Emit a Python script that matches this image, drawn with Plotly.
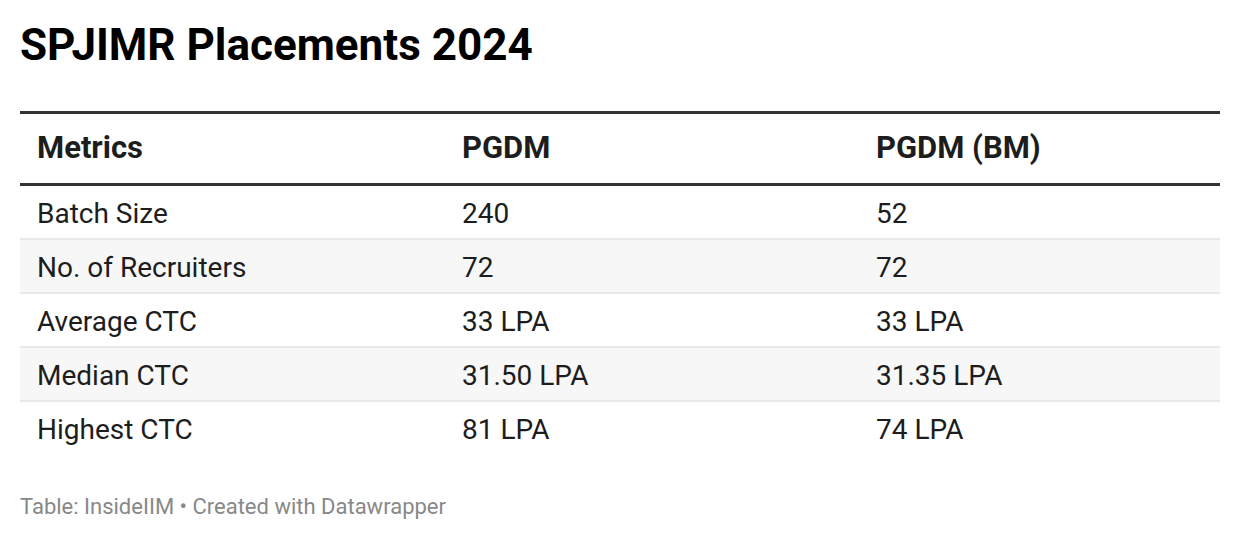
import plotly.graph_objects as go

# ---- data ----
headers = ["Metrics", "PGDM", "PGDM (BM)"]
metrics = ["Batch Size", "No. of Recruiters", "Average CTC", "Median CTC", "Highest CTC"]
pgdm = ["240", "72", "33 LPA", "31.50 LPA", "81 LPA"]
pgdm_bm = ["52", "72", "33 LPA", "31.35 LPA", "74 LPA"]
title_text = "SPJIMR Placements 2024"
footer_text = "Table: InsideIIM • Created with Datawrapper"

# page has an 8px body margin; work in screen pixels and convert
OFF = 8
W, H = 1240 - OFF, 540 - OFF


def px(x):
    return (x - OFF) / W


def py(y):
    return 1 - (y - OFF) / H


FONT = "Roboto, Arial, sans-serif"
TEXT = "#1d1d1d"
CLEAR = "rgba(0,0,0,0)"

x0, x1 = 20, 1220
top = 111
header_h = 75
row_h = 54
n = len(metrics)
col_w = [9, 425, 414, 352]

# vertical text nudges (table text is top-aligned)
dh = 10
db = -8

fig = go.Figure()
# header table
fig.add_trace(go.Table(
    domain=dict(x=[px(x0), px(x1)], y=[0, py(top + dh)]),
    columnwidth=col_w,
    header=dict(
        values=[""] + ["<b>%s</b>" % h for h in headers],
        height=header_h - dh,
        align="left",
        fill=dict(color=CLEAR),
        line=dict(width=0, color=CLEAR),
        font=dict(family=FONT, size=31, color=TEXT),
    ),
    cells=dict(values=[[], [], [], []], fill=dict(color=CLEAR),
               line=dict(width=0, color=CLEAR)),
    hoverinfo="skip",
))
# body table
fig.add_trace(go.Table(
    domain=dict(x=[px(x0), px(x1)], y=[0, py(top + header_h + db)]),
    columnwidth=col_w,
    header=dict(values=[], height=0, fill=dict(color=CLEAR),
                line=dict(width=0, color=CLEAR)),
    cells=dict(
        values=[[""] * n, metrics, pgdm, pgdm_bm],
        height=row_h,
        align="left",
        fill=dict(color=CLEAR),
        line=dict(width=0, color=CLEAR),
        font=dict(family=FONT, size=28, color=TEXT),
    ),
    hoverinfo="skip",
))

shapes = []
body_top = top + header_h
# zebra shading
for i in range(n):
    if i % 2 == 1:
        ya = body_top + i * row_h
        shapes.append(dict(type="rect", xref="paper", yref="paper",
                           x0=px(x0), x1=px(x1), y0=py(ya + row_h - 1), y1=py(ya - 1),
                           fillcolor="#f7f7f7", line=dict(width=0), layer="below"))
# thick header rules
for y in (top + 1.5, top + header_h - 1.5):
    shapes.append(dict(type="line", xref="paper", yref="paper",
                       x0=px(x0), x1=px(x1), y0=py(y), y1=py(y),
                       line=dict(color="#333333", width=3), layer="above"))
# thin row separators
for i in range(1, n):
    y = body_top + i * row_h - 1
    shapes.append(dict(type="line", xref="paper", yref="paper",
                       x0=px(x0), x1=px(x1), y0=py(y), y1=py(y),
                       line=dict(color="#e3e3e3", width=1.5), layer="above"))

fig.update_layout(
    width=W, height=H,
    margin=dict(l=0, r=0, t=0, b=0),
    paper_bgcolor="#ffffff",
    plot_bgcolor="#ffffff",
    shapes=shapes,
    annotations=[
        dict(text="<b>%s</b>" % title_text, x=px(x0 - 2), y=py(45),
             xref="paper", yref="paper", xanchor="left", yanchor="middle",
             showarrow=False, font=dict(family=FONT, size=44, color="#000000")),
        dict(text=footer_text, x=px(x0 - 2), y=py(506),
             xref="paper", yref="paper", xanchor="left", yanchor="middle",
             showarrow=False, font=dict(family=FONT, size=22, color="#888888")),
    ],
)

fig.write_html("out.html")
